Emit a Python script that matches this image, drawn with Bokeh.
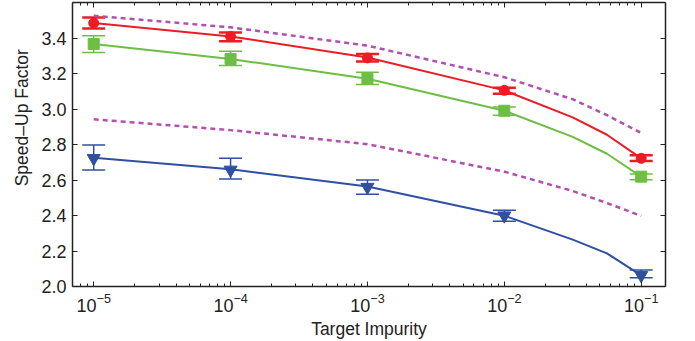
from bokeh.plotting import figure
from bokeh.models import (ColumnDataSource, Whisker, TeeHead, LogAxis, LinearAxis,
                          FixedTicker, Range1d)
from bokeh.embed import file_html
from bokeh.resources import INLINE

# ---- data ----
impurity = [1e-5, 1e-4, 1e-3, 1e-2, 1e-1]
red_mean = [3.484, 3.409, 3.288, 3.105, 2.722]
red_low = [3.454, 3.381, 3.267, 3.086, 2.707]
red_high = [3.515, 3.431, 3.310, 3.120, 2.740]
green_mean = [3.366, 3.282, 3.170, 2.990, 2.619]
green_low = [3.319, 3.245, 3.138, 2.965, 2.601]
green_high = [3.413, 3.325, 3.207, 3.011, 2.634]
blue_mean = [2.722, 2.657, 2.560, 2.399, 2.063]
blue_low = [2.657, 2.606, 2.520, 2.368, 2.050]
blue_high = [2.797, 2.722, 2.600, 2.430, 2.093]

curve_x = [1e-5, 1e-4, 1e-3, 1e-2, 0.0316, 0.0562, 0.1]
red_curve = [3.484, 3.409, 3.290, 3.105, 2.953, 2.855, 2.722]
green_curve = [3.366, 3.282, 3.170, 2.990, 2.843, 2.748, 2.619]
blue_curve = [2.725, 2.660, 2.563, 2.399, 2.264, 2.187, 2.063]
upper_dashed = [3.525, 3.460, 3.357, 3.179, 3.055, 2.965, 2.865]
lower_dashed = [2.942, 2.881, 2.802, 2.647, 2.538, 2.470, 2.398]

y_ticks = [2.0, 2.2, 2.4, 2.6, 2.8, 3.0, 3.2, 3.4]

RED = "#ED1C24"
GREEN = "#6CBE45"
BLUE = "#2F4FA2"
MAG = "#B24FB0"
AX = "#222222"
FONT = "Liberation Sans"

p = figure(width=695, height=341, x_axis_type="log", output_backend="svg",
           toolbar_location=None, x_range=Range1d(7e-6, 0.1505),
           y_range=Range1d(2.0, 3.6),
           min_border_left=72, min_border_right=30, min_border_top=2, min_border_bottom=54)
p.grid.visible = False
p.outline_line_color = None
p.background_fill_color = "white"
p.border_fill_color = "white"

minor = []
for d in range(-6, 0):
    for k in range(2, 10):
        minor.append(k * 10.0 ** d)
xticker = FixedTicker(ticks=impurity, minor_ticks=minor)
yticker = FixedTicker(ticks=y_ticks, minor_ticks=[])

def style(ax):
    ax.axis_line_color = AX
    ax.axis_line_width = 1.5
    ax.major_tick_line_color = AX
    ax.minor_tick_line_color = AX
    ax.major_tick_in = 5
    ax.major_tick_out = 0
    ax.minor_tick_in = 3
    ax.minor_tick_out = 0
    ax.major_tick_line_width = 1
    ax.minor_tick_line_width = 1
    ax.major_label_text_font = FONT
    ax.major_label_text_color = AX
    ax.axis_label_text_font = FONT
    ax.axis_label_text_font_style = "normal"
    ax.axis_label_text_color = AX

xa = p.xaxis[0]
xa.ticker = xticker
style(xa)
xa.major_label_text_font_size = "18px"
xa.major_label_standoff = 6
xa.axis_label = "Target Impurity"
xa.axis_label_text_font_size = "17.5px"
xa.axis_label_standoff = 4

ya = p.yaxis[0]
ya.ticker = yticker
style(ya)
ya.major_label_overrides = {v: f"{v:.1f}" for v in y_ticks}
ya.major_label_text_font_size = "18px"
ya.major_label_standoff = 6
ya.axis_label = "\u00a0" * 11 + "Speed–Up Factor"
ya.axis_label_text_font_size = "17.5px"
ya.axis_label_standoff = 6

top = LogAxis(ticker=xticker)
style(top)
top.major_label_text_font_size = "1px"
top.major_label_text_alpha = 0
top.major_label_standoff = 0
p.add_layout(top, "above")
right = LinearAxis(ticker=yticker)
style(right)
right.major_label_text_font_size = "1px"
right.major_label_text_alpha = 0
right.major_label_standoff = 0
p.add_layout(right, "right")

# dashed bounds
p.line(curve_x, upper_dashed, color=MAG, line_width=2.5, line_dash="5 4")
p.line(curve_x, lower_dashed, color=MAG, line_width=2.5, line_dash="5 4")

# fitted curves
p.line(curve_x, red_curve, color=RED, line_width=2)
p.line(curve_x, green_curve, color=GREEN, line_width=2)
p.line(curve_x, blue_curve, color=BLUE, line_width=2)

for mean, low, high, col, lw in [(red_mean, red_low, red_high, RED, 2.5),
                                 (green_mean, green_low, green_high, GREEN, 1.5),
                                 (blue_mean, blue_low, blue_high, BLUE, 1.5)]:
    src = ColumnDataSource(dict(x=impurity, y=mean, lo=low, hi=high))
    w = Whisker(source=src, base="x", upper="hi", lower="lo", dimension="height",
                line_color=col, line_width=1.5,
                upper_head=TeeHead(size=23, line_color=col, line_width=lw),
                lower_head=TeeHead(size=23, line_color=col, line_width=lw))
    p.add_layout(w)

p.scatter(impurity, red_mean, marker="circle", size=10, color=RED)
p.scatter(impurity, green_mean, marker="square", size=11, color=GREEN)
p.scatter(impurity, blue_mean, marker="inverted_triangle", size=13, color=BLUE)

open("out.html", "w").write(file_html(p, INLINE))
